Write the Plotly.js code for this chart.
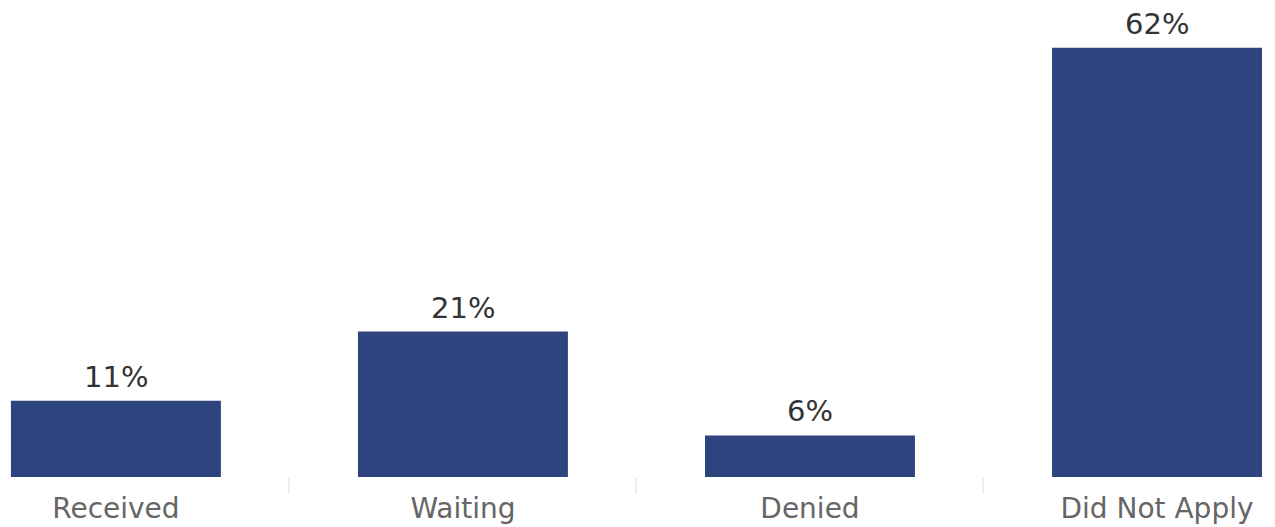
<!DOCTYPE html>
<html>
<head>
<meta charset="utf-8">
<script src="https://cdn.plot.ly/plotly-3.0.1.min.js"></script>
<style>html,body{margin:0;padding:0;background:#fff;}#chart{width:1275px;height:527px;}</style>
</head>
<body>
<div id="chart"></div>
<script>
const categories = ["Received", "Waiting", "Denied", "Did Not Apply"];
const values = [11, 21, 6, 62];
const valueLabels = ["11%", "21%", "6%", "62%"];

const trace = {
  type: "bar",
  x: categories,
  y: values,
  width: 0.605,
  marker: {color: "#2e447e"},
  hoverinfo: "none"
};

const annotations = categories.map((c, i) => ({
  x: c, y: values[i], xref: "x", yref: "y",
  text: valueLabels[i], showarrow: false,
  yanchor: "bottom", yshift: 5,
  font: {family: "DejaVu Sans", size: 29, color: "#333333"}
}));

const layout = {
  width: 1275, height: 527,
  margin: {l: 0, r: 0, t: 0, b: 50},
  paper_bgcolor: "#ffffff", plot_bgcolor: "#ffffff",
  showlegend: false,
  xaxis: {
    range: [-0.334, 3.34],
    showgrid: false, zeroline: false, showline: false,
    ticks: "outside", tickson: "boundaries", ticklen: 16, tickcolor: "#eeeeee", tickwidth: 2,
    ticklabelstandoff: 12,
    tickfont: {family: "DejaVu Sans", size: 28, color: "#666666"}
  },
  yaxis: {
    range: [0, 68.9], visible: false, fixedrange: true
  },
  annotations: annotations
};

Plotly.newPlot("chart", [trace], layout, {displayModeBar: false, staticPlot: true});
</script>
</body>
</html>
